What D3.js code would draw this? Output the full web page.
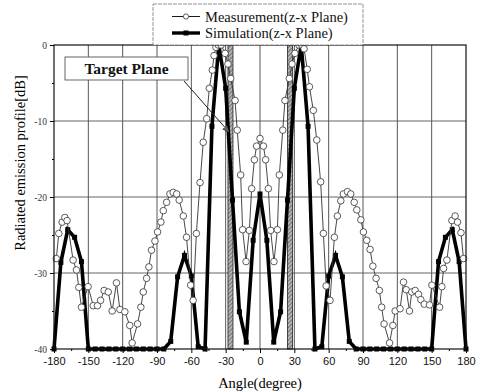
<!DOCTYPE html>
<meta charset="utf-8">
<style>
body { margin: 0; background: #fff; }
</style>
<svg width="480" height="392"></svg>
<script src="https://d3js.org/d3.v7.min.js"></script>
<script>

// measured pattern (open circles), angle in degree / level in dB
var measAngle = [-178, -175.8, -172.9, -170.5, -168.6, -163.3, -160.4, -158.3, -156, -150.2,
  -145.7, -142, -139.3, -136.2, -132.6, -129.2, -125.4, -122.4, -118.1, -113.8,
  -111.7, -107, -104.1, -102, -99.1, -97.1, -94.8, -91.8, -89.5, -86.6,
  -84.5, -81.6, -78.7, -75.8, -72.8, -70.6, -67, -64.2, -60.6, -58.4,
  -55.6, -52.4, -49.6, -46.6, -44.3, -41.7, -40.2, -38.5, -36.5, -34,
  -30.5, -28, -25.6, -21.8, -19.9, -16.9, -15.2, -12.2, -9.3, -7.3,
  -4.9, -3, 0, 3, 4.9, 7.3, 9.3, 12.2, 15.2, 16.9,
  19.9, 21.8, 25.6, 28, 30.5, 34, 36.5, 38.5, 41.3, 43.2,
  46.6, 49.6, 53, 55.4, 57.8, 61.2, 65, 67.6, 70.6, 72.8,
  76.4, 79.3, 82.3, 84.6, 88.1, 90.4, 93.3, 96.2, 98.6, 101.4,
  104.3, 106.3, 108.4, 113.2, 116.1, 118.1, 122.4, 125.4, 127.8, 130.6,
  132.6, 135.6, 138.5, 140.5, 143.5, 148.1, 150.2, 156.9, 158.9, 160.4,
  163.3, 167.7, 170.5, 172.6, 175.6, 177.8];
var measDB = [-28.1, -24.8, -23.3, -22.7, -23.1, -28.3, -29.6, -31.9, -34.5, -31.8,
  -34.3, -34.3, -33.6, -32.3, -32.5, -35, -31.3, -34.8, -35.1, -36.9,
  -39.2, -36.7, -34.5, -32.5, -30.7, -29.2, -27, -25.8, -24.6, -23.3,
  -21.8, -20.7, -19.6, -19.4, -19.6, -20.4, -22.5, -25.3, -31.6, -33.6,
  -24.8, -18.1, -12.8, -9.7, -5.7, -3.3, -1.4, -0.3, 0, 0,
  -1.1, -2.5, -4.4, -7.3, -11.2, -17.1, -24.3, -28.5, -24.4, -18.9,
  -15.1, -13.3, -12.3, -13.3, -15.1, -18.9, -24.4, -28.5, -24.3, -17.1,
  -11.2, -7.3, -4.4, -2.5, -1.1, 0, 0, -0.5, -3.2, -5.5,
  -8.6, -12.5, -18, -24.8, -31.7, -33.6, -25.3, -22.5, -20.5, -19.6,
  -19.3, -19.6, -20.7, -21.7, -23, -24.6, -25.7, -26.9, -29.1, -30.7,
  -32.3, -34.5, -36.7, -39.2, -36.9, -35, -34.7, -31.2, -32.2, -35,
  -32.5, -32.3, -32.8, -33.5, -34.1, -34.2, -31.6, -34.5, -31.8, -29.4,
  -28.3, -23.1, -22.5, -23.3, -24.7, -28.1];

// simulated pattern (filled squares), 6 degree steps
var simAngle = d3.range(-180, 181, 6);
var simDB = [-40, -28.6, -24.3, -25.3, -28.5, -40, -40, -40, -40, -40,
  -40, -40, -40, -40, -40, -40, -40, -39, -30.5, -27.7,
  -30.4, -39.7, -40, -10.7, 0, -5.7, -20.4, -35.1, -39.1, -25.7,
  -19.6,
  -25.7, -39.1, -35.1, -20.4, -5.7, 0, -10.7, -40, -39.7, -30.4,
  -27.7, -30.5, -39, -40, -40, -40, -40, -40, -40, -40,
  -40, -40, -40, -40, -40, -28.5, -25.3, -24.3, -28.5, -40];

var xTicks = d3.range(-180, 181, 30);
var yTicks = [-40, -30, -20, -10, 0];
var targetAngles = [-25.8, 26.2];
var legendNames = ["Measurement(z-x Plane)", "Simulation(z-x Plane)"];

var svg = d3.select("svg"),
    width = +svg.attr("width"),
    height = +svg.attr("height");

var x = d3.scaleLinear().domain([-180, 180]).range([54, 466]);
var y = d3.scaleLinear().domain([-40, 0]).range([349, 45]);

var meas = measAngle.map(function(a, i) { return {a: a, v: measDB[i]}; });
var sim = simAngle.map(function(a, i) { return {a: a, v: simDB[i]}; });

var defs = svg.append("defs");
var hatch = defs.append("pattern")
    .attr("id", "hatch")
    .attr("patternUnits", "userSpaceOnUse")
    .attr("width", 3).attr("height", 3)
    .attr("patternTransform", "rotate(45)");
hatch.append("rect").attr("width", 3).attr("height", 3).attr("fill", "#b5b5b5");
hatch.append("line").attr("x1", 0).attr("y1", 0).attr("x2", 0).attr("y2", 3)
    .attr("stroke", "#444").attr("stroke-width", 1.2);

defs.append("marker")
    .attr("id", "arrow")
    .attr("viewBox", "0 0 10 10")
    .attr("refX", 9).attr("refY", 5)
    .attr("markerWidth", 7).attr("markerHeight", 7)
    .attr("orient", "auto")
  .append("path")
    .attr("d", "M0,1L10,5L0,9z")
    .attr("fill", "#666").attr("stroke", "#222").attr("stroke-width", 0.8);

// grid
svg.append("g").selectAll("line")
  .data(xTicks.slice(1, -1))
  .enter().append("line")
    .attr("x1", function(d) { return x(d); }).attr("x2", function(d) { return x(d); })
    .attr("y1", y(0)).attr("y2", y(-40))
    .attr("stroke", "#444").attr("stroke-width", 0.9);
svg.append("g").selectAll("line")
  .data(yTicks.slice(1, -1))
  .enter().append("line")
    .attr("x1", x(-180)).attr("x2", x(180))
    .attr("y1", function(d) { return y(d); }).attr("y2", function(d) { return y(d); })
    .attr("stroke", "#555").attr("stroke-width", 0.9);

// target plane bands
svg.append("g").selectAll("rect")
  .data(targetAngles)
  .enter().append("rect")
    .attr("x", function(d) { return x(d) - 2.5; })
    .attr("width", 5)
    .attr("y", y(0)).attr("height", y(-40) - y(0))
    .attr("fill", "url(#hatch)")
    .attr("stroke", "#222").attr("stroke-width", 0.8);

// simulation
var line = d3.line()
    .x(function(d) { return x(d.a); })
    .y(function(d) { return y(d.v); });

svg.append("path")
    .datum(sim)
    .attr("d", line)
    .attr("fill", "none")
    .attr("stroke", "#000")
    .attr("stroke-width", 3.6)
    .attr("stroke-linejoin", "miter");
svg.append("g").selectAll("rect")
  .data(sim)
  .enter().append("rect")
    .attr("x", function(d) { return x(d.a) - 2.5; })
    .attr("y", function(d) { return y(d.v) - 2.5; })
    .attr("width", 5).attr("height", 5)
    .attr("fill", "#000");

// measurement
svg.append("path")
    .datum(meas)
    .attr("d", line)
    .attr("fill", "none")
    .attr("stroke", "#333")
    .attr("stroke-width", 0.9);
svg.append("g").selectAll("circle")
  .data(meas)
  .enter().append("circle")
    .attr("cx", function(d) { return x(d.a); })
    .attr("cy", function(d) { return y(d.v); })
    .attr("r", 3.3)
    .attr("fill", "#fff")
    .attr("stroke", "#333")
    .attr("stroke-width", 0.8);

// frame
svg.append("rect")
    .attr("x", x(-180)).attr("y", y(0))
    .attr("width", x(180) - x(-180)).attr("height", y(-40) - y(0))
    .attr("fill", "none").attr("stroke", "#111").attr("stroke-width", 1.2);

// axes
var xAxis = svg.append("g")
    .attr("transform", "translate(0," + y(-40) + ")")
    .call(d3.axisBottom(x).tickValues(xTicks).tickSize(4).tickPadding(4)
      .tickFormat(function(d) { return String(d); }));
xAxis.append("g").call(d3.axisBottom(x).tickValues(d3.range(-165, 180, 30)).tickSize(2).tickFormat(""));
xAxis.selectAll("path.domain").remove();
xAxis.selectAll("text")
    .attr("font-family", "Liberation Sans, Arial, sans-serif")
    .attr("font-size", 11).attr("fill", "#111");

var yAxis = svg.append("g")
    .attr("transform", "translate(" + x(-180) + ",0)")
    .call(d3.axisLeft(y).tickValues(yTicks).tickSize(4).tickPadding(3)
      .tickFormat(function(d) { return String(d); }));
yAxis.append("g").call(d3.axisLeft(y).tickValues([-35, -25, -15, -5]).tickSize(2).tickFormat(""));
yAxis.selectAll("path.domain").remove();
yAxis.selectAll("text")
    .attr("font-family", "Liberation Serif, Times New Roman, serif")
    .attr("font-size", 9.5).attr("fill", "#333");

svg.append("text")
    .attr("x", 260).attr("y", 388)
    .attr("text-anchor", "middle")
    .attr("font-family", "Liberation Serif, Times New Roman, serif")
    .attr("font-size", 14.5)
    .text("Angle(degree)");

svg.append("text")
    .attr("transform", "translate(25,163) rotate(-90)")
    .attr("text-anchor", "middle")
    .attr("font-family", "Liberation Serif, Times New Roman, serif")
    .attr("font-size", 14.5)
    .text("Radiated emission profile[dB]");

// legend
var legend = svg.append("g");
legend.append("rect")
    .attr("x", 153).attr("y", 4).attr("width", 210).attr("height", 41)
    .attr("fill", "#fff").attr("stroke", "#777").attr("stroke-width", 0.8)
    .attr("stroke-dasharray", "4,1");
var rows = legend.selectAll("g.row")
  .data(legendNames)
  .enter().append("g")
    .attr("class", "row")
    .attr("transform", function(d, i) { return "translate(0," + (16.5 + i * 16.5) + ")"; });
rows.append("line")
    .attr("x1", 172).attr("x2", 200)
    .attr("stroke", "#000")
    .attr("stroke-width", function(d, i) { return i ? 3.4 : 0.9; });
rows.filter(function(d, i) { return i === 0; }).append("circle")
    .attr("cx", 186).attr("r", 2.6)
    .attr("fill", "#fff").attr("stroke", "#333").attr("stroke-width", 0.8);
rows.filter(function(d, i) { return i === 1; }).append("rect")
    .attr("x", 183.5).attr("y", -2.5).attr("width", 5).attr("height", 5)
    .attr("fill", "#000");
rows.append("text")
    .attr("x", 205).attr("y", 5)
    .attr("font-family", "Liberation Serif, Times New Roman, serif")
    .attr("font-size", 14.5)
    .attr("fill", "#111")
    .text(function(d) { return d; });

// target plane callout
svg.append("line")
    .attr("x1", 184).attr("y1", 81)
    .attr("x2", 229).attr("y2", 132)
    .attr("stroke", "#222").attr("stroke-width", 1)
    .attr("marker-end", "url(#arrow)");
svg.append("rect")
    .attr("x", 65).attr("y", 57).attr("width", 123).attr("height", 23)
    .attr("fill", "#fff").attr("stroke", "#555").attr("stroke-width", 0.9);
svg.append("text")
    .attr("x", 126.5).attr("y", 74)
    .attr("text-anchor", "middle")
    .attr("font-family", "Liberation Serif, Times New Roman, serif")
    .attr("font-weight", "bold")
    .attr("font-size", 15.5)
    .attr("fill", "#111")
    .text("Target Plane");

</script>
